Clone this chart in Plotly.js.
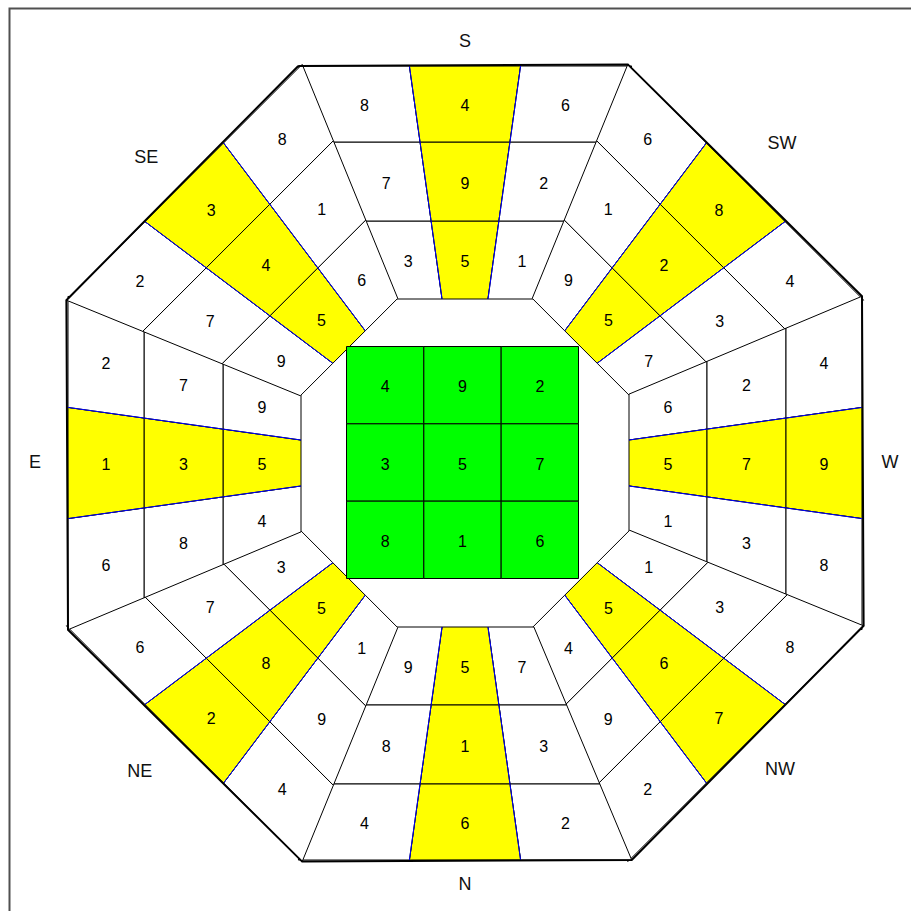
<!DOCTYPE html>
<html><head><meta charset="utf-8">
<script src="https://cdn.plot.ly/plotly-3.0.1.min.js"></script>
<style>html,body{margin:0;padding:0;background:#fff}</style>
</head><body><div id="chart" style="width:911px;height:911px"></div>
<script>
// Eight sectors, listed clockwise starting at the top (S)
const directions = ['S','SW','W','NW','N','NE','E','SE'];
// Cell values in each sector, clockwise order within the sector
const outerRing  = [[8,4,6],[6,8,4],[4,9,8],[8,7,2],[2,6,4],[4,2,6],[6,1,2],[2,3,8]];
const middleRing = [[7,9,2],[1,2,3],[2,7,3],[3,6,9],[3,1,8],[9,8,7],[8,3,7],[7,4,1]];
const innerRing  = [[3,5,1],[9,5,7],[6,5,1],[1,5,4],[7,5,9],[1,5,3],[4,5,9],[9,5,6]];
// Central Lo Shu square, rows top to bottom
const centerGrid = [[4,9,2],[3,5,7],[8,1,6]];

// ---- geometry (drawing parameters) ----
const rings = [innerRing, middleRing, outerRing];
const apothems = [164, 242, 321, 397];
const halfSide = 0.42;
const gridHalf = 116, gridCx = -2.5, gridCy = 0.5;
const labelRadius = [421, 449, 425, 440, 422, 449, 430, 441];
const labelTilt   = [0, 0.1, 0, 0.7, 0, -1.4, 0, 1.3];
const labelDy = -3;
const FONT = 'Liberation Sans, Arial, sans-serif';

function sectorVec(i, tilt){
  const ang = (90 - 45*i + (tilt||0)) * Math.PI/180;
  const u = [Math.cos(ang), Math.sin(ang)];
  const t = [u[1], -u[0]];
  return {u, t};
}
function P(i, a, f){
  const {u, t} = sectorVec(i);
  return [a*u[0] + a*halfSide*f*t[0], a*u[1] + a*halfSide*f*t[1]];
}

const traces = [];
const lx = [], ly = [], lt = [];

for (let i = 0; i < directions.length; i++){
  for (let r = 0; r < rings.length; r++){
    const a0 = apothems[r], a1 = apothems[r+1];
    for (let k = 0; k < 3; k++){
      const f0 = -1 + 2*k/3, f1 = f0 + 2/3;
      const pts = [P(i,a0,f0), P(i,a1,f0), P(i,a1,f1), P(i,a0,f1)];
      const xs = pts.map(p=>p[0]), ys = pts.map(p=>p[1]);
      traces.push({
        type:'scatter', mode:'lines', x:[...xs, xs[0]], y:[...ys, ys[0]],
        fill:'toself', fillcolor: k===1 ? '#FFFF00' : '#FFFFFF',
        line:{color:'#000', width:1}, hoverinfo:'skip'
      });
      lx.push(xs.reduce((s,v)=>s+v,0)/4);
      ly.push(ys.reduce((s,v)=>s+v,0)/4 + labelDy);
      lt.push(String(rings[r][i][k]));
    }
  }
}

// blue edges of the highlighted (middle) strip in each sector
const bx = [], by = [];
for (let i = 0; i < directions.length; i++){
  for (const f of [-1/3, 1/3]){
    const p0 = P(i, apothems[0], f), p1 = P(i, apothems[apothems.length-1], f);
    bx.push(p0[0], p1[0], null); by.push(p0[1], p1[1], null);
  }
}
traces.push({type:'scatter', mode:'lines', x:bx, y:by, line:{color:'#0000FF', width:1}, hoverinfo:'skip'});

// thick outer octagon border
const ox = [], oy = [];
for (let i = 0; i <= directions.length; i++){
  const p = P(i % directions.length, apothems[apothems.length-1], -1);
  ox.push(p[0]); oy.push(p[1]);
}
traces.push({type:'scatter', mode:'lines', x:ox, y:oy, line:{color:'#000', width:2}, hoverinfo:'skip'});

// central green grid
const cell = 2*gridHalf/3;
for (let r = 0; r < 3; r++){
  for (let c = 0; c < 3; c++){
    const x0 = gridCx - gridHalf + c*cell, x1 = x0 + cell;
    const y1 = gridCy + gridHalf - r*cell, y0 = y1 - cell;
    traces.push({
      type:'scatter', mode:'lines', x:[x0,x1,x1,x0,x0], y:[y0,y0,y1,y1,y0],
      fill:'toself', fillcolor:'#00FF00', line:{color:'#000', width:1}, hoverinfo:'skip'
    });
    lx.push((x0+x1)/2); ly.push((y0+y1)/2 + labelDy); lt.push(String(centerGrid[r][c]));
  }
}

traces.push({type:'scatter', mode:'text', x:lx, y:ly, text:lt,
  textfont:{family:FONT, size:16, color:'#000'}, hoverinfo:'skip'});

// direction labels
const dx = [], dy = [];
for (let i = 0; i < directions.length; i++){
  const {u} = sectorVec(i, labelTilt[i]);
  dx.push(labelRadius[i]*u[0]); dy.push(labelRadius[i]*u[1]);
}
traces.push({type:'scatter', mode:'text', x:dx, y:dy, text:directions,
  textfont:{family:FONT, size:18, color:'#111'}, hoverinfo:'skip'});

const layout = {
  width:911, height:911, margin:{l:0,r:0,t:0,b:0},
  paper_bgcolor:'#fff', plot_bgcolor:'#fff', showlegend:false, hovermode:false,
  xaxis:{range:[-465,446], visible:false, fixedrange:true},
  yaxis:{range:[-448,463], visible:false, fixedrange:true},
  shapes:[{type:'rect', xref:'paper', yref:'paper', x0:9.5/911, x1:1.2, y0:-0.2, y1:1-8.5/911,
    line:{color:'#505050', width:2}, fillcolor:'rgba(0,0,0,0)', layer:'below'}]
};
Plotly.newPlot('chart', traces, layout, {staticPlot:true, displayModeBar:false});
</script></body></html>
